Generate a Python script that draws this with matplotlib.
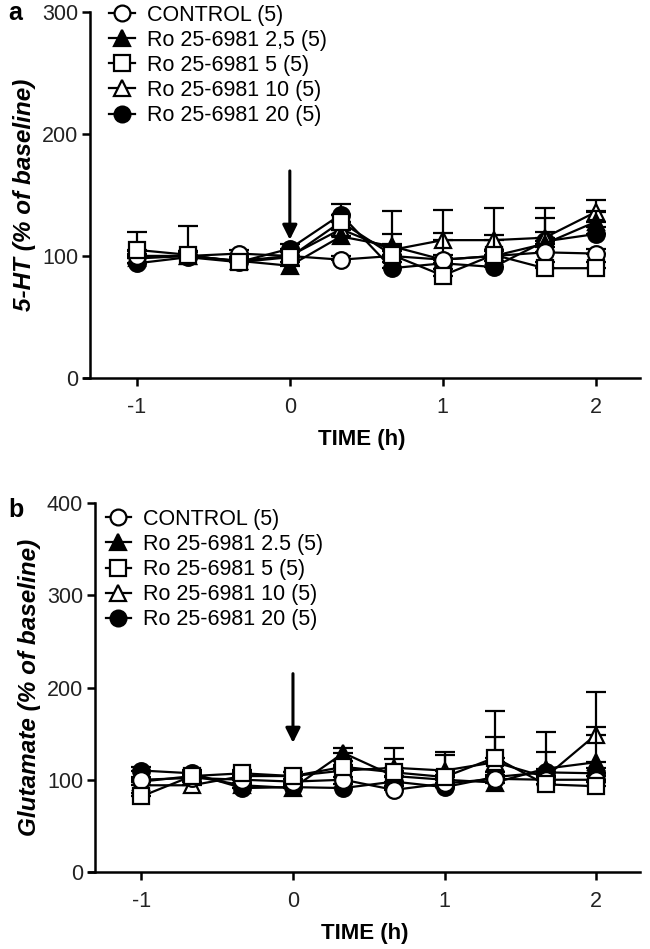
import numpy as np
import matplotlib
matplotlib.use("Agg")
import matplotlib.pyplot as plt

plt.rcParams['font.family'] = ['Liberation Sans', 'DejaVu Sans']

# sampling times (h), drug given at t = 0
time_h = [-1, -2/3, -1/3, 0, 1/3, 2/3, 1, 4/3, 5/3, 2]

# panel a: 5-HT (% of baseline)
ht_control = [100, 100, 102, 100, 97, 100, 97, 100, 103, 102]
ht_ro2_5 = [98, 100, 96, 92, 116, 108, 97, 100, 110, 128]
ht_ro5 = [105, 101, 95, 99, 128, 101, 84, 101, 90, 90]
ht_ro10 = [100, 100, 96, 100, 122, 105, 113, 113, 115, 136]
ht_ro20 = [94, 99, 95, 106, 134, 90, 94, 91, 112, 118]

ht_control_err = [4, 3, 3, 3, 3, 4, 4, 4, 4, 4]
ht_ro2_5_err = [4, 4, 3, 3, 5, 10, 22, 5, 10, 9]
ht_ro5_err = [15, 24, 4, 4, 6, 36, 5, 38, 5, 5]
ht_ro10_err = [4, 4, 3, 4, 6, 5, 25, 4, 16, 10]
ht_ro20_err = [4, 4, 3, 4, 9, 5, 4, 5, 27, 6]

# panel b: glutamate (% of baseline)
glu_control = [100, 102, 100, 98, 100, 89, 96, 101, 100, 100]
glu_ro2_5 = [98, 104, 94, 91, 129, 104, 100, 97, 112, 119]
glu_ro5 = [82, 104, 107, 104, 114, 108, 103, 124, 95, 93]
glu_ro10 = [94, 94, 104, 104, 110, 113, 110, 119, 103, 149]
glu_ro20 = [110, 107, 91, 92, 91, 98, 92, 103, 108, 107]

glu_control_err = [3, 3, 3, 3, 3, 4, 4, 4, 4, 4]
glu_ro2_5_err = [4, 4, 3, 3, 5, 5, 5, 5, 18, 38]
glu_ro5_err = [4, 4, 4, 4, 6, 15, 27, 50, 5, 5]
glu_ro10_err = [4, 4, 4, 4, 6, 21, 17, 27, 5, 46]
glu_ro20_err = [4, 4, 3, 3, 4, 5, 5, 5, 44, 6]

labels_a = ['CONTROL (5)', 'Ro 25-6981 2,5 (5)', 'Ro 25-6981 5 (5)',
            'Ro 25-6981 10 (5)', 'Ro 25-6981 20 (5)']
labels_b = ['CONTROL (5)', 'Ro 25-6981 2.5 (5)', 'Ro 25-6981 5 (5)',
            'Ro 25-6981 10 (5)', 'Ro 25-6981 20 (5)']

# marker, face colour, zorder per group (same order as labels)
styles = [('o', 'white', 4), ('^', 'black', 3), ('s', 'white', 5),
          ('^', 'white', 2), ('o', 'black', 1)]

fig = plt.figure(figsize=(6.5, 9.49), dpi=100)
ax_a = fig.add_axes([84/650, 1 - 378/949, 556/650, 366/949])
ax_b = fig.add_axes([89/650, 1 - 872/949, 551/650, 369/949])


def draw_panel(ax, series, errors, labels, ymax, ylabel, arrow, leg_anchor):
    handles = []
    for y, e, lab, (m, fc, z) in zip(series, errors, labels, styles):
        ax.errorbar(time_h, y, yerr=[np.zeros(len(e)), e], fmt='none',
                    ecolor='black', elinewidth=1.6, capsize=7, capthick=1.6,
                    zorder=z)
        h, = ax.plot(time_h, y, color='black', lw=1.6, marker=m,
                     markersize=12, markerfacecolor=fc,
                     markeredgecolor='black', markeredgewidth=1.6,
                     zorder=z + 0.5, label=lab)
        handles.append(h)

    ax.set_xlim(-1.346, 2.29)
    ax.set_ylim(0, ymax)
    ax.set_xticks([-1, 0, 1, 2])
    ax.set_xticklabels(['-1', '0', '1', '2'])
    ax.set_yticks(np.arange(0, ymax + 1, 100))
    for s in ['top', 'right']:
        ax.spines[s].set_visible(False)
    ax.spines['left'].set_position(('data', -1.307))
    ax.spines['left'].set_linewidth(1.8)
    ax.spines['bottom'].set_linewidth(1.8)
    ax.tick_params(direction='out', length=5.5, width=1.8, labelsize=15.5,
                   labelcolor='#222222')
    ax.tick_params(axis='x', pad=8)
    ax.tick_params(axis='y', pad=3)
    ax.set_xlabel('TIME (h)', fontsize=16, fontweight='bold', labelpad=8)
    ax.set_ylabel(ylabel, fontsize=17.5, fontweight='bold', style='italic',
                  labelpad=4)

    ax.annotate('', xy=(0, arrow[1]), xytext=(0, arrow[0]),
                arrowprops=dict(arrowstyle='-|>', color='black', lw=2.2,
                                mutation_scale=22))

    ax.legend(handles=handles, loc='upper left', bbox_to_anchor=leg_anchor,
              frameon=False, fontsize=15.5, handlelength=1.2,
              handletextpad=0.55, labelspacing=0.19, borderaxespad=0,
              borderpad=0, markerscale=0.95)


draw_panel(ax_a, [ht_control, ht_ro2_5, ht_ro5, ht_ro10, ht_ro20],
           [ht_control_err, ht_ro2_5_err, ht_ro5_err, ht_ro10_err, ht_ro20_err],
           labels_a, 300, '5-HT (% of baseline)', (172, 111), (0.045, 1.02))
draw_panel(ax_b, [glu_control, glu_ro2_5, glu_ro5, glu_ro10, glu_ro20],
           [glu_control_err, glu_ro2_5_err, glu_ro5_err, glu_ro10_err, glu_ro20_err],
           labels_b, 400, 'Glutamate (% of baseline)', (218, 137), (0.03, 0.984))

# panel letters
fig.text(8/650, 1 - 13/949, 'a', fontsize=18, fontweight='bold',
         ha='left', va='center')
fig.text(8/650, 1 - 510/949, 'b', fontsize=18, fontweight='bold',
         ha='left', va='center')

fig.savefig('out.png', dpi=100)
